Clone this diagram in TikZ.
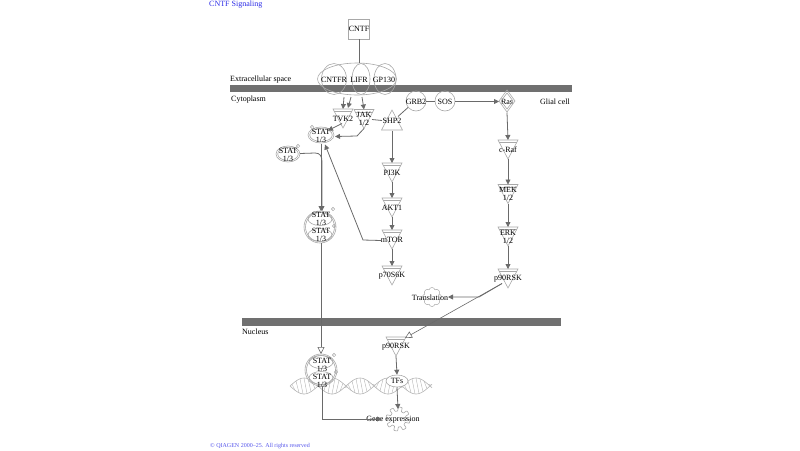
\documentclass[tikz,border=0pt]{standalone}
\usepackage{fontspec}
\setmainfont{Liberation Serif}
\usetikzlibrary{arrows.meta,calc,shapes.geometric,shapes.symbols}
\definecolor{barc}{HTML}{707070}
\definecolor{edgec}{HTML}{6A6A6A}
\definecolor{outl}{HTML}{A8A8A8}
\definecolor{dnac}{HTML}{B4B4B4}
\definecolor{qblue}{HTML}{2A2AE6}
\newcommand{\kinase}[4]{%
  \draw[shp] (#2-10,#3-9) -- (#2+10,#3-9) -- (#2,#3+10) -- cycle;
  \draw[shp] (#2-8.6,#3-6.6) -- (#2+8.6,#3-6.6);
  \node[lbl] (#1) at (#2,#3+0.5) {#4};
  \coordinate (#1-t) at (#2,#3-9);
  \coordinate (#1-b) at (#2,#3+10);}
\newcommand{\pmark}[2]{\node[pc] at (#1,#2) {P};}
\begin{document}
\begin{tikzpicture}[x=1pt,y=-1pt,
  lbl/.style={inner sep=0pt, align=center, font=\fontsize{8}{8}\selectfont},
  shp/.style={draw=outl, line width=0.6pt},
  arr/.style={draw=edgec, line width=0.8pt, -{Triangle[length=5pt,width=5pt]}},
  link/.style={draw=edgec, line width=0.8pt},
  trl/.style={draw=edgec, line width=0.6pt, -{Triangle[open,length=7pt,width=7pt,fill=white]}},
  pc/.style={circle, draw=outl, line width=0.4pt, inner sep=0.3pt, font=\fontsize{3.5}{3.5}\selectfont, text=outl},
  dna/.style={draw=dnac, line width=0.6pt},
  compart/.style={inner sep=0pt, anchor=west, font=\fontsize{8}{8}\selectfont}
]
\useasboundingbox (0,0) rectangle (800,450);
% title & copyright
\node[compart, text=qblue] (title) at (209,4.5) {CNTF Signaling};
\node[inner sep=0pt, anchor=west, text=qblue!80, font=\fontsize{6}{6}\selectfont] (copy) at (210,446.5) {© QIAGEN 2000–25. All rights reserved};
% membranes
\fill[barc] (230,85) rectangle (572,92);
\fill[barc] (242,318) rectangle (561,326);
\node[compart] (extra) at (230,80) {Extracellular space};
\node[compart] (cyto) at (231,100) {Cytoplasm};
\node[compart] (glial) at (540,101.5) {Glial cell};
\node[compart] (nucl) at (242,332) {Nucleus};
% CNTF
\node[lbl, draw=outl, line width=0.6pt, minimum size=20pt, fill=white] (cntf) at (359,29) {CNTF};
% receptor complex
\coordinate (rec) at (357,79);
\draw[shp] (rec) ellipse [x radius=39.5, y radius=16];
\draw[shp] (334,79) ellipse [x radius=12.5, y radius=15.5];
\draw[shp] (361,79) ellipse [x radius=9, y radius=15.5];
\draw[shp] (385,79) ellipse [x radius=11, y radius=15.5];
\node[lbl] (cntfr) at (334,79.5) {CNTFR};
\node[lbl] (lifr) at (359,79.5) {LIFR};
\node[lbl] (gp130) at (384,79.5) {GP130};
\draw[link] (cntf.south) -- (359,63);
% kinases
\kinase{tvk}{343}{118}{TVK2}
\kinase{jak}{364}{118.5}{JAK\\1/2}
\kinase{craf}{508}{149}{c-Raf}
\kinase{mek}{508}{193.5}{MEK\\1/2}
\kinase{erk}{508}{236}{ERK\\1/2}
\kinase{prc}{508}{278}{p90RSK}
\kinase{pik}{392}{172}{PI3K}
\kinase{akt}{392}{207}{AKT1}
\kinase{mtor}{392}{239}{mTOR}
\kinase{p70}{392}{275}{p70S6K}
\kinase{prn}{396}{346}{p90RSK}
% SHP2
\draw[shp] (381.5,130) -- (402.5,130) -- (392,110) -- cycle;
\node[lbl] (shp) at (392,120.5) {SHP2};
% GRB2, SOS
\draw[shp] (416,101) circle[radius=10];
\node[lbl] (grb) at (416,101.5) {GRB2};
\draw[shp] (445,101) circle[radius=10];
\node[lbl] (sos) at (445,101.5) {SOS};
% Ras
\node[lbl] (ras) at (507,101.5) {Ras};
\draw[shp] (507,90) -- (515,101) -- (507,112) -- (499,101) -- cycle;
\draw[shp] (507,93) -- (513,101) -- (507,109) -- (501,101) -- cycle;
% STAT top
\draw[shp] (321,135) ellipse [x radius=13, y radius=8];
\draw[shp] (321,135) ellipse [x radius=11.3, y radius=6.5];
\node[lbl] (stat1) at (321,135.5) {STAT\\1/3};
\pmark{312}{127}
% STAT left
\draw[shp] (288,154) ellipse [x radius=12, y radius=8];
\draw[shp] (288,154) ellipse [x radius=10.3, y radius=6.5];
\node[lbl] (stat2) at (288,154.5) {STAT\\1/3};
\pmark{298}{146}
% DNA
\draw[dna] plot[domain=290:432, samples=90, smooth] (\x, {386-8*sin((\x-290)/56*360)});
\draw[dna] plot[domain=290:432, samples=90, smooth] (\x, {386+8*sin((\x-290)/56*360)});
\foreach \x in {292,296,...,428} {
  \draw[dna, line width=0.4pt] (\x, {386-8*sin((\x-290)/56*360)}) -- (\x+3, {386+8*sin((\x+3-290)/56*360)});
}
% STAT dimer cytoplasm
\draw[shp] (320,227) circle[radius=16];
\draw[shp] (320,227) circle[radius=14.5];
\draw[shp] (320,219) ellipse [x radius=12, y radius=6.5];
\draw[shp] (320,235) ellipse [x radius=12, y radius=6.5];
\node[lbl] (dim1) at (321,227) {STAT\\1/3\\STAT\\1/3};
\pmark{333}{209}
\pmark{334}{226}
% STAT dimer nucleus
\fill[white] (321,370) circle[radius=16];
\draw[shp] (321,370) circle[radius=16];
\draw[shp] (321,370) circle[radius=14.5];
\draw[shp] (321,362) ellipse [x radius=12, y radius=6.5];
\draw[shp] (321,378) ellipse [x radius=12, y radius=6.5];
\node[lbl] (dim2) at (322,372.5) {STAT\\1/3\\STAT\\1/3};
\pmark{334}{355}
\pmark{336}{372}
% TFs
\node[lbl, ellipse, draw=outl, line width=0.6pt, fill=white, minimum width=22pt, minimum height=12pt, inner sep=0pt] (tfs) at (397,381) {TFs};
% Translation
\node[cloud, cloud puffs=8, aspect=1, draw=outl, line width=0.5pt, minimum width=19pt, minimum height=19pt, inner sep=0pt] (trcl) at (432,297) {};
\node[lbl] (transl) at (430,297.5) {Translation};
% Gene expression
\coordinate (gear) at (398,419);
\draw[shp, shift={(gear)}] plot[domain=0:360, samples=241] (\x:{10+2*tanh(4*sin(8*\x))}) -- cycle;
\node[lbl] (gene) at (393,419.5) {Gene expression};
% edges
\draw[arr] (344,97) -- (tvk-t);
\draw[arr] (351,97) -- ($(tvk-t)+(5,-1)$);
\draw[arr] (362,97) -- (jak-t);
\draw[arr] ($(tvk)+(-1,5)$) -- ($(stat1)+(7,-5)$);
\draw[arr] (jak-b) -- (357,136) -- ($(stat1)+(14,1)$);
\draw[link] ($(jak)+(8,0.5)$) -- ($(shp)+(-10,0)$);
\draw[link] ($(grb)+(-8,6)$) -- ($(shp)+(6,-4)$);
\draw[link] ($(grb)+(10,0)$) -- ($(sos)+(-10,0)$);
\draw[arr] ($(sos)+(10,0)$) -- ($(ras)+(-8,0)$);
\draw[arr] ($(ras)+(0,11)$) -- (craf-t);
\draw[arr] (craf-b) -- (mek-t);
\draw[arr] (mek-b) -- (erk-t);
\draw[arr] (erk-b) -- (prc-t);
\draw[arr] ($(shp)+(0,10)$) -- (pik-t);
\draw[arr] (pik-b) -- (akt-t);
\draw[arr] (akt-b) -- (mtor-t);
\draw[arr] (mtor-b) -- (p70-t);
\draw[arr] ($(mtor)+(-11,1)$) -- (363,240) -- ($(stat1)+(4,9)$);
\draw[arr] ($(stat1)+(0,8)$) -- (321,211);
\draw[arr] ($(stat2)+(12,-1)$) -- (315,153) .. controls (320,153) and (322,156) .. (322,162) -- (322,211);
\draw[trl] (321,243) -- (321,354);
\draw[trl] ($(prc)+(-6,5)$) -- ($(prn-t)+(9,1)$);
\draw[arr] ($(prc)+(-6,5)$) -- (479,297) -- (448,297);
\draw[arr] (prn-b) -- (tfs.north);
\draw[arr] (tfs.south) -- ($(gear)+(0,-10)$);
\draw[arr] (322,386) -- (322,419) -- ($(gear)+(-16,0)$);
\end{tikzpicture}
\end{document}
